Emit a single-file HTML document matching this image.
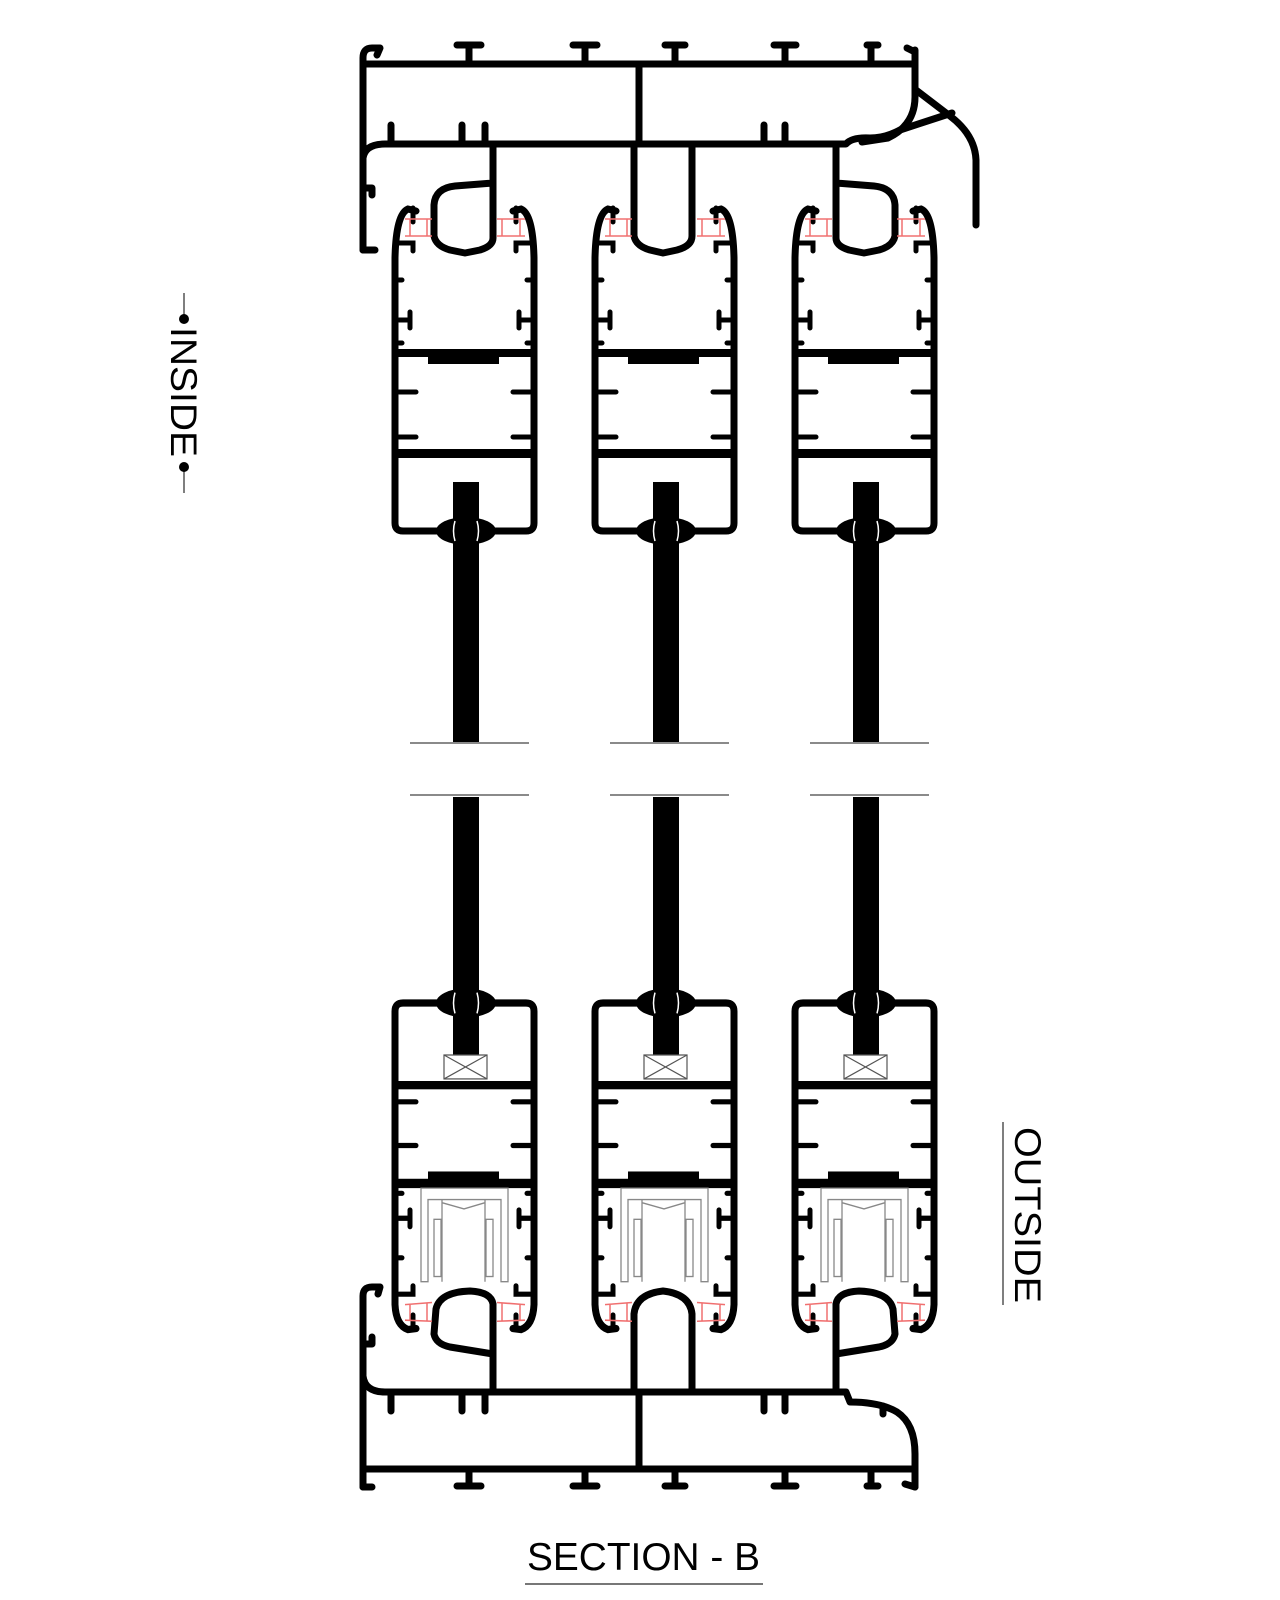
<!DOCTYPE html>
<html><head><meta charset="utf-8"><style>
html,body{margin:0;padding:0;background:#fff;width:1280px;height:1600px;overflow:hidden}
svg{display:block}
text{font-family:"Liberation Sans",sans-serif}
</style></head><body>
<svg width="1280" height="1600" viewBox="0 0 1280 1600" xmlns="http://www.w3.org/2000/svg">
<defs>
<g id="sashTop">
  <path d="M395,523 L395,258 Q396,214 408,209 L416,211 M534,523 L534,258 Q533,214 521,209 L513,211 M395,523 Q395,531 403,531 L526,531 Q534,531 534,523" fill="none" stroke="#000" stroke-width="7" stroke-linecap="round"/>
  <path d="M413,208 L413,222 M516,208 L516,222 M399,243 L413,243 L413,251 M530,243 L516,243 L516,251" fill="none" stroke="#000" stroke-width="5" stroke-linecap="round"/>
  <path d="M405,219 L432,219 M405,236 L432,236 M410,219 L410,236 M427,219 L427,236 M497,219 L525,219 M497,236 L525,236 M502,219 L502,236 M520,219 L520,236" fill="none" stroke="#f07070" stroke-width="1.5"/>
  <path d="M399,320 L410,320 M410,312 L410,328 M530,320 L519,320 M519,312 L519,328 M399,280 L402,280 M530,280 L527,280 M399,343 L402,343 M530,343 L527,343" fill="none" stroke="#000" stroke-width="5" stroke-linecap="round"/>
  <rect x="395" y="349" width="139" height="8" fill="#000"/>
  <rect x="428" y="355" width="71" height="9" fill="#000"/>
  <rect x="395" y="449" width="139" height="9" fill="#000"/>
  <path d="M399,392 L416,392 M399,437 L416,437 M530,392 L513,392 M530,437 L513,437" stroke="#000" stroke-width="5" stroke-linecap="round"/>
  <rect x="453" y="482" width="26" height="260" fill="#000"/>
  <ellipse cx="466" cy="531" rx="30" ry="14" fill="#000"/>
  <path d="M455,521 Q452,531 455,541 M477,521 Q480,531 477,541" stroke="#fff" stroke-width="1.5" fill="none"/>
</g>
<g id="sashBotBody">
  <path d="M395,1008 L395,1290 Q396,1310 408,1314 L416,1313 M534,1008 L534,1290 Q533,1310 521,1314 L513,1313 M395,1008 Q395,1000 403,1000 L526,1000 Q534,1000 534,1008" fill="none" stroke="#000" stroke-width="7" stroke-linecap="round"/>
  <path d="M413,1300 L413,1314 M516,1300 L516,1314 M399,1280 L413,1280 L413,1272 M530,1280 L516,1280 L516,1272" fill="none" stroke="#000" stroke-width="5" stroke-linecap="round"/>
  <path d="M405,1290 L432,1288 M405,1305 L432,1306 M410,1290 L410,1305 M427,1289 L427,1306 M497,1288 L525,1290 M497,1306 L525,1305 M502,1288 L502,1306 M520,1289 L520,1305" fill="none" stroke="#f07070" stroke-width="1.5"/>
  <path d="M399,1207 L410,1207 M410,1199 L410,1215 M530,1207 L519,1207 M519,1199 L519,1215 M399,1183 L402,1183 M530,1183 L527,1183 M399,1245 L402,1245 M530,1245 L527,1245" fill="none" stroke="#000" stroke-width="5" stroke-linecap="round"/>
  <rect x="395" y="1075" width="139" height="8" fill="#000"/>
  <rect x="395" y="1169" width="139" height="9" fill="#000"/>
  <rect x="428" y="1162" width="71" height="9" fill="#000"/>
  <path d="M399,1095 L416,1095 M399,1137 L416,1137 M530,1095 L513,1095 M530,1137 L513,1137" stroke="#000" stroke-width="5" stroke-linecap="round"/>
  <rect x="453" y="990" width="26" height="60" fill="#000"/>
  <rect x="444" y="1050" width="43" height="23" fill="#fff" stroke="#555" stroke-width="1.2"/>
  <path d="M444,1050 L487,1073 M487,1050 L444,1073" stroke="#555" stroke-width="1.2"/>
  <ellipse cx="466" cy="1000" rx="30" ry="14" fill="#000"/>
  <path d="M455,990 Q452,1000 455,1010 M477,990 Q480,1000 477,1010" stroke="#fff" stroke-width="1.5" fill="none"/>
  <path d="M421,1268 L421,1178 L508,1178 L508,1268 L501,1268 L501,1189 L428,1189 L428,1268 Z" fill="none" stroke="#888" stroke-width="1.3"/>
  <path d="M442,1268 L442,1189 M485,1268 L485,1189 M442,1192 L464,1198 L485,1192" fill="none" stroke="#888" stroke-width="1.3"/>
  <rect x="434" y="1208" width="7" height="55" fill="none" stroke="#888" stroke-width="1.3"/>
  <rect x="486" y="1208" width="7" height="55" fill="none" stroke="#888" stroke-width="1.3"/>
</g>
<g id="sashBot">
  <rect x="453" y="797" width="26" height="210" fill="#000"/>
  <g transform="translate(0,1003) scale(1,1.04) translate(0,-1000)">
    <use href="#sashBotBody"/>
  </g>
</g>
</defs>

<!-- top frame -->
<g fill="none" stroke="#000" stroke-width="7" stroke-linecap="round" stroke-linejoin="round">
  <path d="M363,250 L363,58 Q363,48 372,48 L380,48 L377,55"/>
  <path d="M363,250 L375,250 M363,188 L372,188 L372,195"/>
  <path d="M363,64 L915,64"/>
  <path d="M915,50 L915,97 Q915,125 888,138 L862,142"/>
  <path d="M907,48 L915,52"/>
  <path d="M363,158 Q365,144 385,144 L846,144 Q852,137 870,138 Q885,138 900,130 L952,113"/>
  <path d="M916,90 L950,116 Q975,135 976,160 L976,225"/>
  <path d="M639,64 L639,144"/>
  <path d="M391,125 L391,144 M462,125 L462,144 M485,125 L485,144 M764,125 L764,144 M785,125 L785,144"/>
  <path d="M469,64 L469,46 M457,45 L481,45 M585,64 L585,46 M573,45 L597,45 M675,64 L675,46 M665,45 L685,45 M785,64 L785,46 M774,45 L796,45 M871,64 L871,46 M867,45 L878,45"/>
  <path d="M493,144 L493,238 Q493,246 480,250 L465,253 L450,250 Q436,246 434,236 L434,205 Q435,188 455,186 L493,183"/>
  <path d="M634,144 L634,236 Q636,246 650,250 L663,253 L677,250 Q692,246 692,236 L692,144"/>
  <path d="M836,144 L836,238 Q836,246 849,250 L864,253 L879,250 Q893,246 895,236 L895,205 Q894,188 874,186 L836,183"/>
</g>

<!-- bottom frame -->
<g fill="none" stroke="#000" stroke-width="7" stroke-linecap="round" stroke-linejoin="round" transform="translate(0,14)">
  <path d="M363,1473 L363,1282 Q363,1273 372,1273 L380,1273 L378,1280"/>
  <path d="M363,1330 L372,1330 L372,1323"/>
  <path d="M363,1362 Q365,1378 385,1378 L846,1378 L850,1388 Q880,1388 897,1398 Q915,1410 915,1440 L915,1473"/>
  <path d="M363,1455 L915,1455"/>
  <path d="M639,1378 L639,1455"/>
  <path d="M391,1378 L391,1397 M462,1378 L462,1397 M485,1378 L485,1397 M764,1378 L764,1397 M785,1378 L785,1397 M883,1392 L883,1400"/>
  <path d="M469,1455 L469,1472 M457,1472 L481,1472 M585,1455 L585,1472 M573,1472 L597,1472 M675,1455 L675,1472 M665,1472 L685,1472 M785,1455 L785,1472 M774,1472 L796,1472 M871,1455 L871,1472 M867,1472 L878,1472 M363,1473 L372,1473 M905,1470 L915,1473"/>
  <path d="M493,1378 L493,1290 Q491,1278 470,1277 Q440,1278 436,1295 L434,1320 Q436,1330 450,1333 L493,1340"/>
  <path d="M634,1378 L634,1300 Q636,1280 663,1277 Q690,1280 692,1300 L692,1378"/>
  <path d="M836,1378 L836,1290 Q838,1278 859,1277 Q889,1278 893,1295 L895,1320 Q893,1330 879,1333 L836,1340"/>
</g>

<use href="#sashTop"/>
<use href="#sashTop" transform="translate(200,0)"/>
<use href="#sashTop" transform="translate(400,0)"/>
<use href="#sashBot"/>
<use href="#sashBot" transform="translate(200,0)"/>
<use href="#sashBot" transform="translate(400,0)"/>

<g stroke="#444" stroke-width="1.3">
  <path d="M410,743 L529,743 M410,795 L529,795 M610,743 L729,743 M610,795 L729,795 M810,743 L929,743 M810,795 L929,795"/>
</g>

<g stroke="#555" stroke-width="1.5">
  <path d="M184,293 L184,320 M184,466 L184,493"/>
  <path d="M1003,1122 L1003,1305"/>
  <path d="M525,1584 L763,1584" stroke="#777" stroke-width="2"/>
</g>
<circle cx="184" cy="319" r="5" fill="#000"/>
<circle cx="184" cy="467" r="5" fill="#000"/>
<text x="0" y="0" font-size="37" transform="translate(171,327) rotate(90)" textLength="130" lengthAdjust="spacingAndGlyphs">INSIDE</text>
<text x="0" y="0" font-size="37" transform="translate(1015,1127) rotate(90)" textLength="176" lengthAdjust="spacingAndGlyphs">OUTSIDE</text>
<text x="527" y="1570" font-size="39" textLength="233" lengthAdjust="spacingAndGlyphs">SECTION - B</text>
</svg>
</body></html>
